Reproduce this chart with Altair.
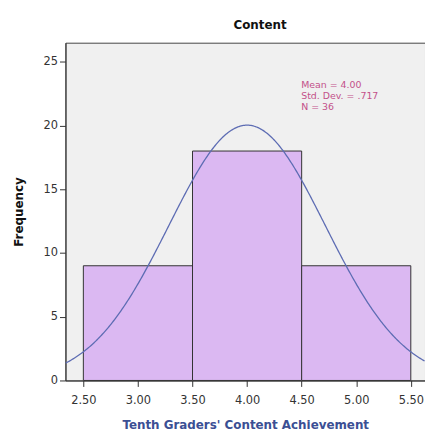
import altair as alt
import pandas as pd

bin_start = [2.5, 3.5, 4.5]
bin_end = [3.5, 4.5, 5.5]
counts = [9, 18, 9]
mean_val = 4.00
sd_val = 0.717
n_val = 36
x_ticks = [2.5, 3.0, 3.5, 4.0, 4.5, 5.0, 5.5]
y_ticks = [0, 5, 10, 15, 20, 25]
stats_lines = ["Mean = 4.00", "Std. Dev. = .717", "N = 36"]

bars_df = pd.DataFrame({"start": bin_start, "end": bin_end, "count": counts})

xdom = [2.336, 5.63]
ydom = [0, 26.5]
xs = alt.Scale(domain=xdom, nice=False, zero=False)
ys = alt.Scale(domain=ydom, nice=False)

FONT = "DejaVu Sans"

xaxis = alt.Axis(values=x_ticks, format=".2f", title="Tenth Graders' Content Achievement",
                 titleColor="#3b4f94", titleFontWeight="bold", titleFontSize=12,
                 titlePadding=14, labelFontSize=11.5, labelColor="#333", tickColor="#333",
                 domainColor="#333", tickSize=6, labelPadding=8, grid=False, labelFont=FONT,
                 titleFont=FONT)
yaxis = alt.Axis(values=y_ticks, title="Frequency", titleFontWeight="bold", titleFontSize=12,
                 titlePadding=18, labelFontSize=11.5, labelColor="#333", tickColor="#333",
                 domainColor="#333", tickSize=6, labelPadding=2, grid=False, labelFont=FONT,
                 titleFont=FONT, titleColor="#111")

bars = alt.Chart(bars_df).mark_rect(fill="#dbb8f2", stroke="#333", strokeWidth=1).encode(
    x=alt.X("start:Q", scale=xs, axis=xaxis),
    x2="end:Q",
    y=alt.Y("count:Q", scale=ys, axis=yaxis),
    y2=alt.datum(0),
)

curve = alt.Chart(alt.sequence(xdom[0], xdom[1] + 0.001, 0.01, as_="x")).transform_calculate(
    y=f"{n_val} * exp(-0.5 * pow((datum.x - {mean_val}) / {sd_val}, 2)) / ({sd_val} * sqrt(2 * PI))"
).mark_line(color="#5d6cb3", strokeWidth=1.3, clip=True).encode(
    x=alt.X("x:Q", scale=xs),
    y=alt.Y("y:Q", scale=ys),
)

stats = alt.Chart(pd.DataFrame({"t": [stats_lines]})).mark_text(
    align="left", baseline="top", fontSize=9.5, color="#c3508a", lineHeight=11,
    font=FONT
).encode(
    x=alt.value(238), y=alt.value(38), text="t"
)

chart = alt.layer(bars, curve, stats).properties(
    width=363, height=341,
    title=alt.TitleParams("Content", fontSize=12, fontWeight="bold", font=FONT,
                          color="#111", offset=11, dx=15),
    padding={"left": 4, "top": 9, "right": 0, "bottom": 0},
).configure_view(fill="#f0f0f0", stroke="#444", strokeWidth=1)

chart.save("out.html", embed_options={"renderer": "svg", "actions": False})
